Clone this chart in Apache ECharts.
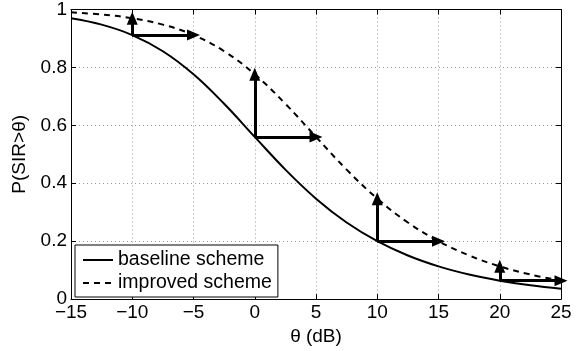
<!DOCTYPE html>
<html>
<head>
<meta charset="utf-8">
<script src="https://cdn.jsdelivr.net/npm/echarts@6/dist/echarts.min.js"></script>
<style>
  html, body { margin: 0; padding: 0; background: #fff; }
  #chart { width: 585px; height: 351px; }
</style>
</head>
<body>
<div id="chart"></div>
<script>
// theta in dB, coverage probability
const thetaDb = [-15, -12.5, -10, -7.5, -5, -2.5, 0, 2.5, 5, 7.5, 10, 12.5, 15, 17.5, 20, 22.5, 25]
const baseline = [0.9697, 0.9477, 0.9117, 0.8559, 0.7764, 0.6745, 0.5601, 0.4471, 0.3469, 0.2646, 0.2001, 0.1506, 0.1131, 0.0849, 0.0637, 0.0477, 0.0358]
const improved = [0.9901, 0.9826, 0.9697, 0.9477, 0.9117, 0.8559, 0.7764, 0.6745, 0.5601, 0.4471, 0.3469, 0.2646, 0.2001, 0.1506, 0.1131, 0.0849, 0.0637]

// arrows: up from baseline to improved, right by the 5 dB gain
const arrowX = [-10, 0, 10, 20]
const arrowFrom = [0.9117, 0.5601, 0.2001, 0.0637]
const arrowTo = [0.9697, 0.7764, 0.3469, 0.1131]
const gainDb = 5

const FONT = '"Liberation Sans", Arial, sans-serif'
const pairs = ys => thetaDb.map((x, i) => [x, ys[i]])

const arrowLines = []
arrowX.forEach((x, i) => {
  arrowLines.push([{ coord: [x, arrowFrom[i]] }, { coord: [x, arrowTo[i]] }])
  arrowLines.push([{ coord: [x, arrowFrom[i]] }, { coord: [x + gainDb, arrowFrom[i]] }])
})

const gridLine = { show: true, lineStyle: { color: '#999', type: [1, 3], width: 1 } }
const tickIn = { show: true, inside: true, length: 5, lineStyle: { color: '#000' } }
const axisLine = { show: true, onZero: false, lineStyle: { color: '#000', width: 1 } }
const label = { color: '#000', fontSize: 19, fontFamily: FONT }

const chart = echarts.init(document.getElementById('chart'), null, { renderer: 'canvas' })
chart.setOption({
  animation: false,
  textStyle: { fontFamily: FONT },
  grid: { left: 71, right: 24, top: 8, bottom: 50 },
  legend: {
    left: 75, top: 245, orient: 'vertical',
    padding: [5, 6, 4, 7], itemGap: 3, itemWidth: 30, itemHeight: 18,
    borderColor: '#000', borderWidth: 1, backgroundColor: '#fff',
    itemStyle: { opacity: 0 },
    textStyle: { color: '#000', fontSize: 19.5, fontFamily: FONT },
    data: ['baseline scheme', 'improved scheme'],
  },
  xAxis: [
    {
      type: 'value', min: -15, max: 25, interval: 5,
      axisLine, axisTick: tickIn, splitLine: gridLine,
      axisLabel: { ...label, margin: 4, formatter: v => String(v).replace('-', '\u2212') },
      name: '\u03b8 (dB)', nameLocation: 'middle', nameGap: 23,
      nameTextStyle: { color: '#000', fontSize: 19, fontFamily: FONT },
    },
    {
      type: 'value', position: 'top', min: -15, max: 25, interval: 5,
      axisLine, axisTick: tickIn, splitLine: { show: false }, axisLabel: { show: false },
    },
  ],
  yAxis: [
    {
      type: 'value', min: 0, max: 1, interval: 0.2,
      axisLine, axisTick: tickIn, splitLine: gridLine,
      axisLabel: { ...label, margin: 4, formatter: v => (v === 0 || v === 1) ? String(v) : v.toFixed(1) },
      name: 'P(SIR>\u03b8)', nameLocation: 'middle', nameGap: 26,
      nameTextStyle: { color: '#000', fontSize: 19, fontFamily: FONT },
    },
    {
      type: 'value', position: 'right', min: 0, max: 1, interval: 0.2,
      axisLine, axisTick: tickIn, splitLine: { show: false }, axisLabel: { show: false },
    },
  ],
  series: [
    {
      name: 'baseline scheme', type: 'line', data: pairs(baseline),
      smooth: 0.4, symbol: 'none',
      lineStyle: { color: '#000', width: 2 }, itemStyle: { color: '#000' },
      markLine: {
        silent: true, animation: false,
        symbol: ['none', 'triangle'], symbolSize: [11, 13],
        label: { show: false },
        lineStyle: { color: '#000', width: 3, type: 'solid' },
        emphasis: { disabled: true },
        data: arrowLines,
      },
    },
    {
      name: 'improved scheme', type: 'line', data: pairs(improved),
      smooth: 0.4, symbol: 'none',
      lineStyle: { color: '#000', width: 2, type: [6, 5] }, itemStyle: { color: '#000' },
    },
  ],
})
</script>
</body>
</html>
